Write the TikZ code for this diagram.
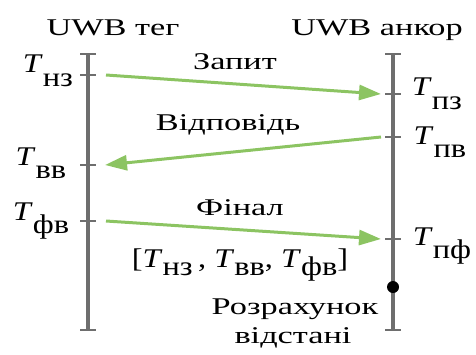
\documentclass[tikz,border=0pt]{standalone}
\usepackage{graphicx}
\usepackage{fontspec}
\setmainfont{Liberation Serif}
\usetikzlibrary{arrows.meta}
\definecolor{tl}{RGB}{110,110,110}
\definecolor{msg}{RGB}{140,196,98}
\newcommand\wide[1]{\scalebox{1.43}[1]{#1}}
\newcommand\TT[1]{\scalebox{1.2}[1]{\textit{T}\raisebox{-0.5em}{#1}}}
\newcommand\TS[1]{\textit{T}\raisebox{-0.3em}{#1}}
\begin{document}
\begin{tikzpicture}[x=1pt,y=-1pt,
  timeline/.style={draw=tl,line width=3.6pt},
  tick/.style={draw=tl,line width=2.6pt},
  msgarrow/.style={draw=msg,line width=3pt,-{Triangle[length=22pt,width=15pt]}},
  lbl/.style={inner sep=0pt,font=\fontsize{24}{27}\selectfont},
  tlbl/.style={inner sep=0pt,font=\fontsize{27}{30}\selectfont}]
\useasboundingbox (0,0) rectangle (476,354);
% timelines
\coordinate (Ltop) at (88,54); \coordinate (Lbot) at (88,330);
\coordinate (Rtop) at (393,54); \coordinate (Rbot) at (393,330);
\draw[timeline] (Ltop) -- (Lbot);
\draw[timeline] (Rtop) -- (Rbot);
\foreach \c in {Ltop,Lbot,Rtop,Rbot} \draw[tick] ([xshift=-8pt]\c) -- ([xshift=8pt]\c);
% events
\coordinate (Lnz) at (88,75); \coordinate (Lvv) at (88,165); \coordinate (Lfv) at (88,221);
\coordinate (Rpz) at (393,94); \coordinate (Rpv) at (393,137); \coordinate (Rpf) at (393,239);
\foreach \c in {Lnz,Lvv,Lfv,Rpz,Rpv,Rpf} \draw[tick] ([xshift=-8pt]\c) -- ([xshift=8pt]\c);
\node[circle,fill=black,inner sep=0pt,minimum size=12pt] (dot) at (393,287) {};
% messages
\draw[msgarrow] ([xshift=18pt]Lnz) -- ([xshift=-12pt]Rpz);
\draw[msgarrow] ([xshift=-12pt]Rpv) -- ([xshift=17pt]Lvv);
\draw[msgarrow] ([xshift=18pt]Lfv) -- ([xshift=-12pt]Rpf);
% texts
\node[lbl] (tag) at (113,28) {\wide{UWB тег}};
\node[lbl] (anc) at (377,30) {\wide{UWB анкор}};
\node[lbl] (req) at (235,62) {\wide{Запит}};
\node[lbl] (resp) at (228,125) {\wide{Відповідь}};
\node[lbl] (fin) at (240,208) {\wide{Фінал}};
\node[tlbl] (data) at (240,265) {\scalebox{1.2}[1]{[\TS{нз}\,, \TS{вв}, \TS{фв}]}};
\node[lbl] (calc1) at (295,309) {\wide{Розрахунок}};
\node[lbl] (calc2) at (293,338) {\wide{відстані}};
\node[tlbl] (tnz) at (48,71) {\TT{нз}};
\node[tlbl] (tvv) at (41,163) {\TT{вв}};
\node[tlbl] (tfv) at (41,221) {\TT{фв}};
\node[tlbl] (tpz) at (437,94) {\TT{пз}};
\node[tlbl] (tpv) at (440,142) {\TT{пв}};
\node[tlbl] (tpf) at (442,246) {\TT{пф}};
\end{tikzpicture}
\end{document}
